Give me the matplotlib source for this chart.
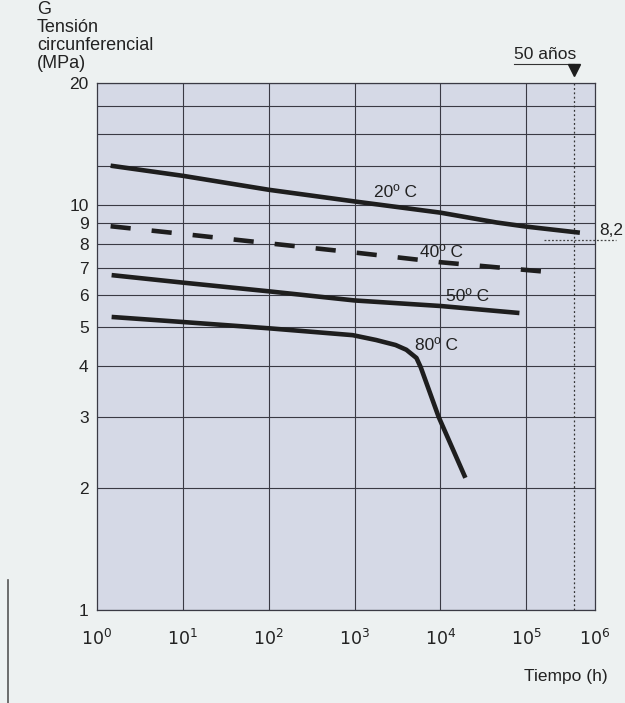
import matplotlib
matplotlib.use("Agg")
import matplotlib.pyplot as plt
from matplotlib.lines import Line2D
import numpy as np

plt.rcParams['font.family'] = ['Liberation Sans', 'DejaVu Sans']

# ---- data ----
t20 = [1.44, 10, 100, 1000, 1e4, 4.5e4, 1e5, 4.2e5]
s20 = [12.5, 11.8, 10.9, 10.2, 9.57, 9.05, 8.84, 8.54]

t40 = [1.44, 10, 100, 1000, 1e4, 1.55e5]
s40 = [8.86, 8.48, 8.04, 7.63, 7.22, 6.85]

t50 = [1.48, 10, 100, 1000, 1e4, 8.3e4]
s50 = [6.71, 6.43, 6.12, 5.81, 5.63, 5.41]

t80 = [1.48, 10, 100, 950, 1780, 3000, 4000, 5250, 5900, 9500, 1.95e4]
s80 = [5.29, 5.14, 4.96, 4.77, 4.64, 4.51, 4.39, 4.19, 3.97, 3.0, 2.12]

curve_labels = ["20º C", "40º C", "50º C", "80º C"]
label_pos_t = [1700, 5700, 11700, 5000]
label_pos_s = [10.75, 7.65, 5.95, 4.5]

y_ticks = [1, 2, 3, 4, 5, 6, 7, 8, 9, 10, 20]
y_extra_grid = [12.5, 15, 17.5]
x_ticks = [1, 10, 100, 1000, 1e4, 1e5]
x_tick_labels = ["$10^0$", "$10^1$", "$10^2$", "$10^3$", "$10^4$", "$10^5$", "$10^6$"]
x_max = 6.3e5
t_50years = 3.6e5
s_ref = 8.2

# ---- figure ----
fig = plt.figure(figsize=(6.25, 7.03), dpi=100, facecolor="#edf1f1")
ax = fig.add_axes([97/625, 1-610/703, 498/625, 527/703])
ax.set_facecolor("#d5d9e6")
ax.set_xscale("log")
ax.set_yscale("log")
ax.set_xlim(1, x_max)
ax.set_ylim(1, 20)

for v in y_ticks + y_extra_grid:
    ax.axhline(v, color="#3a3a44", lw=0.8, zorder=1)
for v in x_ticks[1:]:
    ax.axvline(v, color="#3a3a44", lw=0.8, zorder=1)

ax.set_yticks(y_ticks)
ax.set_yticklabels([str(v) for v in y_ticks], fontsize=12.5, color="#222222")
ax.yaxis.set_minor_locator(matplotlib.ticker.NullLocator())
ax.set_xticks(x_ticks + [x_max])
ax.set_xticklabels(x_tick_labels, fontsize=12.5, color="#222222")
ax.xaxis.set_minor_locator(matplotlib.ticker.NullLocator())
ax.tick_params(length=0, pad=6)
ax.tick_params(axis="x", pad=13)
for sp in ax.spines.values():
    sp.set_color("#3a3a44")
    sp.set_linewidth(0.9)

lw = 3.3
col = "#1e1e1e"
ax.plot(t20, s20, color=col, lw=lw, solid_capstyle="butt", zorder=3)
ax.plot(t40, s40, color=col, lw=lw, dashes=(4.4, 4.6), dash_capstyle="butt", zorder=3)
ax.plot(t50, s50, color=col, lw=lw, solid_capstyle="butt", zorder=3)
ax.plot(t80, s80, color=col, lw=lw, solid_capstyle="butt", zorder=3)

for lab, tx, sy in zip(curve_labels, label_pos_t, label_pos_s):
    ax.text(tx, sy, lab, fontsize=12.5, color="#222222", ha="left", va="center", zorder=4)

# 50 years marker
ax.axvline(t_50years, color="#333333", lw=0.9, ls=(0, (1.5, 2)), zorder=2)
ax.plot([t_50years], [21.5], marker="v", color="#1e1e1e", markersize=9, clip_on=False, zorder=5)
ax.text(7.2e4, 22.5, "50 años", fontsize=12.5, color="#222222", ha="left", va="bottom", clip_on=False)
ax.plot([7.2e4, t_50years], [22.3, 22.3], color="#333333", lw=0.8, clip_on=False)

# 8,2 reference
ax.plot([1.6e5, 1.1e6], [s_ref, s_ref], color="#444444", lw=0.9, ls=(0, (1.5, 1.5)), clip_on=False, zorder=2)
ax.text(7.1e5, s_ref * 1.012, "8,2", fontsize=12.5, color="#222222", ha="left", va="bottom")

# axis titles
fig.text(37/625, 1 - 1/703, "G\nTensión\ncircunferencial\n(MPa)", fontsize=13, color="#222222",
         ha="left", va="top", linespacing=1.08)
fig.text(608/625, 1-677/703, "Tiempo (h)", fontsize=12.5, color="#222222", ha="right", va="center")

# scan edge
fig.add_artist(Line2D([8/625, 8/625], [0, 1-580/703], color="#555555", lw=1.2))

fig.savefig("out.png", dpi=100, facecolor=fig.get_facecolor())
